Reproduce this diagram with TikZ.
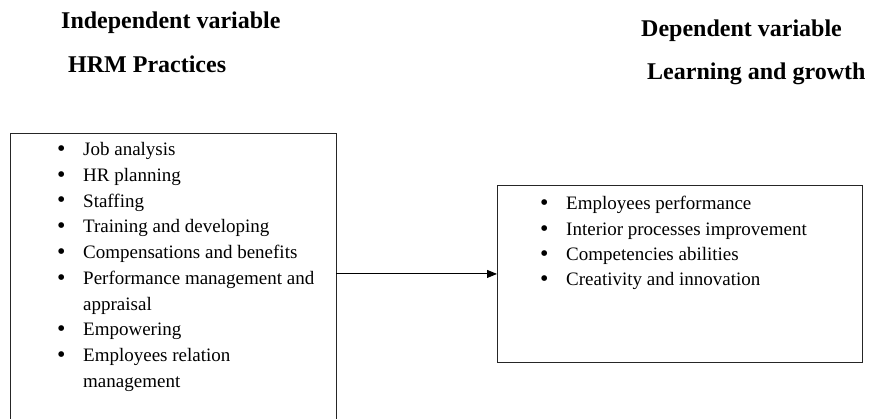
\documentclass[tikz,border=0pt]{standalone}
\usepackage{fontspec}
\setmainfont{Liberation Serif}
\usetikzlibrary{arrows.meta}
\tikzset{
  frame/.style={draw=black!85, line width=0.9pt},
  itemtext/.style={anchor=base west, inner sep=0pt, font=\fontsize{19}{25.7}\selectfont},
  heading/.style={anchor=base west, inner sep=0pt, font=\fontsize{24}{28}\selectfont\bfseries},
  link/.style={draw=black, line width=0.9pt, -{Triangle[length=10pt,width=8pt]}},
}
\newcommand{\bul}{\makebox[26pt][l]{\raisebox{-0.5pt}{\fontsize{24}{24}\selectfont •}}}
\newcommand{\ind}{\hspace*{26pt}}
\begin{document}
\begin{tikzpicture}[x=1pt,y=-1pt]
\useasboundingbox (0,0) rectangle (870,419);
% headings
\node[heading] (h1) at (61,29) {Independent variable};
\node[heading] (h2) at (68,73) {HRM Practices};
\node[heading] (h3) at (641,37) {Dependent variable};
\node[heading] (h4) at (647,80) {Learning and growth};
% left box (bottom edge cut by the page)
\node[inner sep=0pt, minimum width=326pt, minimum height=286pt, anchor=north west] (lbox) at (10,133) {};
\draw[frame] (lbox.south west) -- (lbox.north west) -- (lbox.north east) -- (lbox.south east);
% right box
\node[frame, inner sep=0pt, minimum width=365pt, minimum height=177pt, anchor=north west] (rbox) at (497,185) {};
% left items
\node[itemtext] (l1) at (57,156) {\bul Job analysis};
\node[itemtext] (l2) at (57,182) {\bul HR planning};
\node[itemtext] (l3) at (57,207.5) {\bul Staffing};
\node[itemtext] (l4) at (57,233) {\bul Training and developing};
\node[itemtext] (l5) at (57,259) {\bul Compensations and benefits};
\node[itemtext] (l6) at (57,285) {\bul Performance management and};
\node[itemtext] (l7) at (57,310.5) {\ind appraisal};
\node[itemtext] (l8) at (57,336) {\bul Empowering};
\node[itemtext] (l9) at (57,362) {\bul Employees relation};
\node[itemtext] (l10) at (57,387.5) {\ind management};
% right items
\node[itemtext] (r1) at (540,210) {\bul Employees performance};
\node[itemtext] (r2) at (540,236) {\bul Interior processes improvement};
\node[itemtext] (r3) at (540,261) {\bul Competencies abilities};
\node[itemtext] (r4) at (540,286) {\bul Creativity and innovation};
% connector
\draw[link] (rbox.west -| lbox.east) -- (rbox.west);
\end{tikzpicture}
\end{document}
